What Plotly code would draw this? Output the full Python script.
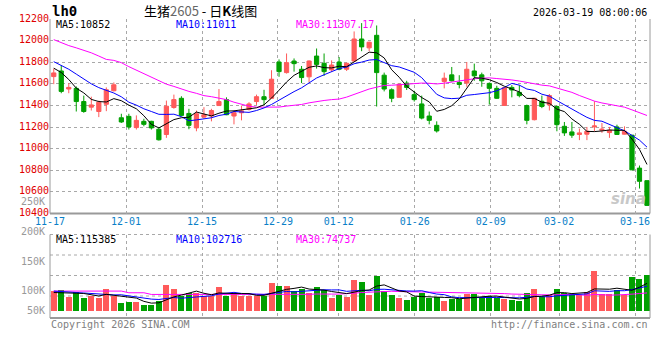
import plotly.graph_objects as go

# ---------------- data ----------------
tick_index = [0, 10, 20, 30, 38, 48, 58, 67, 77]
tick_dates = ["11-17", "12-01", "12-15", "12-29", "01-12", "01-26", "02-09", "03-02", "03-16"]

opens = [11667, 11719, 11552, 11558, 11436, 11384, 11344, 11411, 11536, 11286,
         11299, 11195, 11253, 11253, 11180, 11131, 11381, 11466, 11326, 11192,
         11292, 11302, 11399, 11454, 11302, 11332, 11363, 11436, 11481, 11466,
         11802, 11704, 11811, 11735, 11665, 11857, 11790, 11729, 11802, 11735,
         11811, 12015, 11933, 12049, 11680, 11545, 11475, 11607, 11500, 11414,
         11302, 11216, 11622, 11683, 11613, 11607, 11719, 11683, 11604, 11558,
         11400, 11567, 11521, 11399, 11268, 11439, 11405, 11390, 11207, 11155,
         11131, 11134, 11201, 11170, 11149, 11201, 11134, 11125, 10820, 10704]
highs = [11741, 11771, 11607, 11576, 11491, 11481, 11445, 11567, 11613, 11323,
         11323, 11308, 11277, 11258, 11201, 11445, 11500, 11485, 11369, 11353,
         11384, 11369, 11552, 11475, 11353, 11399, 11430, 11500, 11545, 11726,
         11826, 11881, 11835, 11765, 11817, 11927, 11881, 11817, 11848, 11796,
         12085, 12162, 11990, 12140, 11704, 11558, 11597, 11628, 11536, 11491,
         11344, 11253, 11704, 11756, 11680, 11802, 11787, 11704, 11613, 11582,
         11570, 11588, 11588, 11408, 11470, 11491, 11506, 11399, 11247, 11247,
         11186, 11201, 11439, 11238, 11201, 11222, 11207, 11125, 10844, 10704]
lows = [11597, 11513, 11513, 11344, 11332, 11353, 11292, 11347, 11530, 11238,
        11177, 11177, 11207, 11177, 11075, 11100, 11369, 11300, 11180, 11161,
        11277, 11253, 11395, 11310, 11225, 11262, 11353, 11405, 11399, 11460,
        11665, 11695, 11713, 11607, 11613, 11741, 11674, 11713, 11726, 11719,
        11802, 11902, 11902, 11390, 11530, 11430, 11475, 11543, 11436, 11271,
        11225, 11149, 11558, 11622, 11558, 11573, 11628, 11573, 11408, 11460,
        11395, 11475, 11475, 11225, 11262, 11375, 11353, 11161, 11118, 11100,
        11079, 11079, 11161, 11146, 11100, 11131, 11131, 10804, 10631, 10470]
closes = [11701, 11530, 11567, 11436, 11344, 11405, 11430, 11545, 11591, 11247,
          11201, 11262, 11225, 11192, 11082, 11393, 11454, 11308, 11216, 11323,
          11314, 11353, 11436, 11314, 11332, 11350, 11414, 11481, 11454, 11643,
          11713, 11796, 11787, 11658, 11811, 11780, 11713, 11774, 11735, 11790,
          12015, 11942, 11985, 11704, 11552, 11466, 11597, 11567, 11454, 11283,
          11262, 11164, 11652, 11628, 11594, 11735, 11674, 11628, 11558, 11466,
          11565, 11543, 11491, 11262, 11466, 11390, 11491, 11222, 11146, 11125,
          11146, 11161, 11210, 11180, 11170, 11131, 11161, 10804, 10698, 10475]

ma5 = [11745, 11705, 11640, 11560, 11516, 11456, 11436, 11432, 11463, 11444,
       11403, 11369, 11305, 11225, 11192, 11231, 11269, 11286, 11291, 11339,
       11323, 11303, 11328, 11348, 11350, 11357, 11369, 11378, 11406, 11468,
       11541, 11617, 11679, 11719, 11753, 11766, 11750, 11747, 11763, 11758,
       11805, 11851, 11893, 11887, 11840, 11730, 11661, 11577, 11527, 11473,
       11433, 11346, 11363, 11398, 11460, 11555, 11657, 11652, 11638, 11612,
       11578, 11552, 11525, 11465, 11465, 11430, 11420, 11366, 11343, 11275,
       11226, 11160, 11158, 11164, 11173, 11170, 11170, 11089, 10993, 10854]
ma10 = [11805, 11771, 11735, 11690, 11645, 11600, 11565, 11540, 11515, 11480,
        11430, 11403, 11369, 11344, 11318, 11317, 11319, 11296, 11258, 11266,
        11277, 11286, 11307, 11319, 11344, 11340, 11336, 11353, 11377, 11409,
        11449, 11493, 11528, 11563, 11611, 11654, 11684, 11713, 11741, 11756,
        11786, 11801, 11820, 11825, 11799, 11768, 11756, 11735, 11707, 11657,
        11581, 11503, 11470, 11463, 11467, 11494, 11501, 11507, 11518, 11536,
        11566, 11604, 11588, 11552, 11539, 11504, 11486, 11445, 11404, 11370,
        11328, 11290, 11262, 11254, 11224, 11198, 11165, 11123, 11079, 11014]
ma30 = [12009, 11979, 11954, 11933, 11912, 11887, 11857, 11826, 11817, 11796,
        11759, 11726, 11689, 11659, 11628, 11597, 11576, 11552, 11530, 11512,
        11491, 11481, 11466, 11454, 11430, 11408, 11393, 11384, 11384, 11385,
        11385, 11394, 11401, 11409, 11424, 11437, 11446, 11454, 11459, 11477,
        11504, 11527, 11552, 11569, 11585, 11587, 11592, 11600, 11608, 11607,
        11605, 11599, 11606, 11617, 11625, 11638, 11647, 11652, 11655, 11649,
        11644, 11636, 11626, 11613, 11602, 11588, 11581, 11563, 11543, 11521,
        11492, 11466, 11440, 11423, 11410, 11399, 11384, 11359, 11334, 11307]

volume = [83000, 89000, 58000, 79000, 56000, 63000, 56000, 93000, 63000, 35000,
          39000, 39000, 25000, 26000, 42000, 108000, 93000, 63000, 74000, 76000,
          63000, 63000, 100000, 63000, 74000, 63000, 63000, 63000, 63000, 117000,
          104000, 104000, 83000, 90000, 76000, 100000, 86000, 54000, 65000, 58000,
          129000, 121000, 65000, 146000, 83000, 67000, 56000, 46000, 58000, 74000,
          54000, 57000, 40000, 52000, 52000, 71000, 71000, 53000, 62000, 53000,
          49000, 46000, 40000, 76000, 90000, 57000, 66000, 93000, 76000, 71000,
          65000, 80000, 168000, 72000, 69000, 86000, 65000, 140000, 135000, 150000]
vma5 = [77000, 75000, 74000, 74000, 73000, 69000, 62400, 69400, 66200, 62000,
        57200, 53800, 40200, 32800, 34200, 48000, 58800, 66400, 76000, 82800,
        73800, 67800, 75200, 73000, 72600, 72600, 72600, 65200, 65200, 73800,
        82000, 90200, 94200, 99600, 91400, 90600, 87000, 81200, 76200, 72600,
        78400, 85400, 87600, 103800, 108800, 96400, 83400, 79600, 62000, 60200,
        57600, 57800, 56600, 55400, 51000, 54400, 57200, 59800, 61800, 62000,
        57600, 52600, 50000, 52800, 60200, 61800, 65800, 76400, 76400, 72600,
        74200, 77000, 92000, 91200, 90800, 95000, 92000, 86400, 99000, 115200]
vma10 = [83000, 82000, 80000, 77000, 75000, 73000, 70000, 68000, 67000, 67500,
         63100, 58100, 54800, 49500, 48100, 52600, 56300, 53300, 54400, 58500,
         60900, 63300, 70800, 74500, 77700, 73200, 70200, 70200, 69100, 73200,
         77300, 81400, 79700, 82400, 82600, 86300, 88600, 87700, 87900, 82000,
         84500, 86200, 84400, 90000, 90700, 87400, 84400, 83600, 82900, 84500,
         77000, 70600, 68100, 58700, 55600, 56000, 57500, 58200, 58600, 56500,
         56000, 54900, 54900, 57300, 61100, 59700, 59200, 63200, 64600, 66400,
         68000, 71400, 84200, 83800, 81700, 84600, 84500, 89200, 95100, 103000]
vma30 = [83000, 83000, 83000, 83000, 83000, 83000, 83000, 83000, 83000, 83000,
         76000, 76000, 76000, 69000, 69000, 69000, 69000, 69000, 69000, 69000,
         69000, 69000, 69000, 69000, 69000, 69000, 69000, 69000, 69000, 66400,
         67100, 67600, 68400, 68800, 69500, 70700, 71700, 70400, 70500, 71200,
         74200, 77000, 78300, 82300, 83700, 82300, 81100, 80500, 80000, 79900,
         79600, 79400, 77400, 77000, 76300, 76600, 76800, 76500, 76500, 74300,
         72500, 70600, 69100, 68700, 69100, 67700, 67000, 68300, 68700, 69100,
         67000, 65600, 69100, 66600, 66100, 66800, 67100, 70200, 72800, 75300]

price_legend = ["MA5:10852", "MA10:11011", "MA30:11307.17"]
volume_legend = ["MA5:115385", "MA10:102716", "MA30:74737"]
volume_axis_labels = ["250K", "200K", "150K", "100K", "50K"]
price_ticks = list(range(10400, 12201, 200))
price_tick_text = [str(v) for v in price_ticks]

idx = list(range(len(closes)))

# ---------------- style ----------------
RED = "#FF5A5A"
GREEN = "#00A000"
GRID = "#A8A8A8"
FRAME = "#9A9A9A"
MONO = "DejaVu Sans Mono"

W, H = 660, 360
L, R, T, B = 50, 10, 19, 42
price_bottom_px = 213.5
vol_top_px = 234.5
vol_base_px = 311.0
vol_bottom_px = 318.0
plot_h = H - T - B


def fy(px):
    return (H - B - px) / plot_h


fig = go.Figure()
fig.add_trace(go.Candlestick(
    x=idx, open=opens, high=highs, low=lows, close=closes,
    increasing=dict(line=dict(color=RED, width=1), fillcolor=RED),
    decreasing=dict(line=dict(color=GREEN, width=1), fillcolor=GREEN),
    whiskerwidth=0, xaxis="x", yaxis="y", hoverinfo="skip"))
for arr, col in [(ma30, "#FF00FF"), (ma10, "#0000FF"), (ma5, "#000000")]:
    fig.add_trace(go.Scatter(x=idx, y=arr, mode="lines", line=dict(color=col, width=1),
                             xaxis="x", yaxis="y", hoverinfo="skip"))

bar_colors = [RED if c > o else GREEN for o, c in zip(opens, closes)]
fig.add_trace(go.Bar(x=idx, y=volume, marker=dict(color=bar_colors, line=dict(width=0)),
                     width=0.8, xaxis="x2", yaxis="y2", hoverinfo="skip"))
for arr, col in [(vma30, "#FF00FF"), (vma10, "#0000FF"), (vma5, "#000000")]:
    fig.add_trace(go.Scatter(x=idx, y=arr, mode="lines", line=dict(color=col, width=1),
                             xaxis="x2", yaxis="y2", hoverinfo="skip"))

tick_pos = [v * 1.0117 - 0.49 for v in tick_index]
xr = [-0.5, 79.4]
vol_px_per_unit = 0.24 / 1000.0
vol_lo = -(vol_bottom_px - vol_base_px) / vol_px_per_unit
vol_hi = (vol_base_px - vol_top_px) / vol_px_per_unit

fig.update_layout(
    width=W, height=H, margin=dict(l=L, r=R, t=T, b=B, autoexpand=False),
    paper_bgcolor="white", plot_bgcolor="white", showlegend=False,
    boxgap=0.2, bargap=0,
    xaxis=dict(domain=[0, 1], range=xr, anchor="y", tickmode="array",
               tickvals=tick_pos, ticktext=tick_dates, showgrid=True, gridcolor=GRID,
               griddash="dot", gridwidth=1, zeroline=False, showline=False, ticks="",
               automargin=False, ticklabeloverflow="allow",
               tickfont=dict(family=MONO, size=10, color="#0A7FC8"),
               rangeslider=dict(visible=False), fixedrange=True),
    yaxis=dict(domain=[fy(price_bottom_px), 1], range=[10400, 12200], anchor="x",
               tickmode="array", tickvals=price_ticks, ticktext=price_tick_text,
               showgrid=True, gridcolor=GRID, griddash="dot", gridwidth=1,
               zeroline=False, showline=False, ticks="", ticklabelshift=-1,
               automargin=False,
               tickfont=dict(family=MONO, size=10, color="#E00000")),
    xaxis2=dict(domain=[0, 1], range=xr, anchor="y2", matches="x", tickmode="array",
                tickvals=tick_pos, showticklabels=False, showgrid=True, gridcolor=GRID,
                griddash="dot", zeroline=False, showline=False, ticks="", automargin=False),
    yaxis2=dict(domain=[0, fy(vol_top_px)], range=[vol_lo, vol_hi], anchor="x2",
                showticklabels=False, showgrid=False, zeroline=False, showline=False,
                ticks="", automargin=False),
)

shapes = []


def hline(px, dash="solid", w=1, color=FRAME):
    shapes.append(dict(type="line", xref="paper", yref="paper", x0=0, x1=1,
                       y0=fy(px), y1=fy(px), line=dict(color=color, width=w, dash=dash),
                       layer="below"))


def vline(xfrac, top, bot, w=1):
    shapes.append(dict(type="line", xref="paper", yref="paper", x0=xfrac, x1=xfrac,
                       y0=fy(bot), y1=fy(top), line=dict(color=FRAME, width=w)))


hline(price_bottom_px, w=2)
vline(0, 19, price_bottom_px)
vline(1, 19, price_bottom_px)
for py in (vol_top_px, 255, 275.5, 296):
    hline(py, dash="dot", color=GRID)
hline(vol_bottom_px, w=2)
vline(0, vol_top_px, vol_bottom_px)
vline(1, vol_top_px, vol_bottom_px)
fig.update_layout(shapes=shapes)


def ann(text, x_px, y_px, color="black", size=10, family=MONO, xanchor="left"):
    fig.add_annotation(text=text, x=(x_px - L) / (W - L - R), y=fy(y_px),
                       xref="paper", yref="paper", showarrow=False,
                       xanchor=xanchor, yanchor="middle",
                       font=dict(family=family, size=size, color=color))


ann("<b>lh0</b>", 50, 11, size=14)
ann("生猪<span style='color:#666'>2605</span> - 日<b>K</b>线图", 200, 10, size=13,
    family="Noto Sans CJK SC", xanchor="center")
ann("2026-03-19 08:00:06", 649, 12, size=10, xanchor="right")
for txt, xp, col in zip(price_legend, (54, 174, 294), ("#000000", "#0000FF", "#FF00FF")):
    ann(txt, xp, 24.5, color=col)
for txt, xp, col in zip(volume_legend, (54, 174, 294), ("#000000", "#0000FF", "#FF00FF")):
    ann(txt, xp, 239, color=col)
for lab, ypx in zip(volume_axis_labels, (201.5, 231, 261, 290, 310)):
    ann(lab, 47, ypx, color="#999999", xanchor="right")
ann("Copyright 2026 SINA.COM", 49, 324, color="#808080")
ann("http://finance.sina.com.cn", 650, 324, color="#808080", xanchor="right")
ann("<i><b>sina</b></i>", 648, 199, color="#C8C8C8", size=15,
    family="DejaVu Sans", xanchor="right")

fig.write_html("out.html",
               config={"displayModeBar": False, "staticPlot": True},
               post_script="document.body.style.margin='0px';document.body.style.padding='0px';")
